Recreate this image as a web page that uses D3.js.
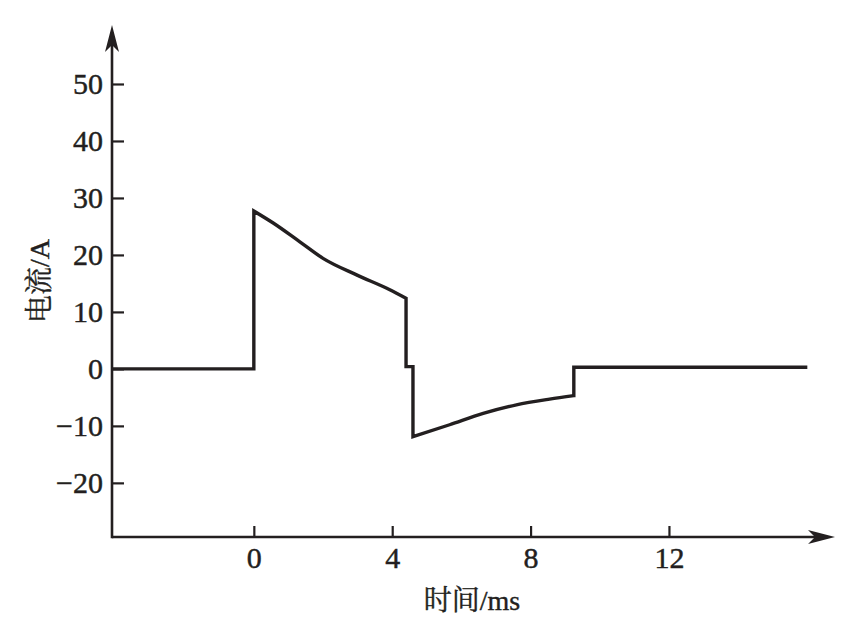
<!DOCTYPE html>
<html>
<head>
<meta charset="utf-8">
<script src="https://cdn.jsdelivr.net/npm/d3@7/dist/d3.min.js"></script>
<style>
  html, body { margin: 0; padding: 0; background: #fff; }
  svg { display: block; }
  text { font-family: "Liberation Serif", "Noto Serif CJK SC", "Noto Sans CJK SC", serif; fill: #231f20; }
</style>
</head>
<body>
<svg id="chart" width="846" height="640"></svg>
<script>
// ---- data (time in ms, current in A) ----
const timeMs = [-4.1, 0.0, 0.0, 0.56, 1.33, 2.0, 2.97, 3.93, 4.4, 4.4, 4.6, 4.6, 5.66, 6.63, 7.59, 8.55, 9.25, 9.25, 16.0];
const currentA = [0.0, 0.0, 27.7, 25.6, 22.3, 19.4, 16.5, 13.9, 12.4, 0.4, 0.4, -11.9, -9.8, -7.8, -6.3, -5.3, -4.7, 0.3, 0.3];
const xTicks = [0, 4, 8, 12];
const yTicks = [-20, -10, 0, 10, 20, 30, 40, 50];
const xDomain = [-4.1, 16.8];
const yDomain = [-29.5, 60];
const xTitle = "时间/ms";
const yTitle = "电流/A";

(function () {
const svg = d3.select("#chart");
const ink = "#231f20";
const mLeft = 112, mRight = 835, mBottom = 537, mTop = 27;

const x = d3.scaleLinear().domain(xDomain).range([mLeft, mRight]);
const y = d3.scaleLinear().domain(yDomain).range([mBottom, mTop]);

const fmt = v => (v < 0 ? "\u2212" + Math.abs(v) : String(v));

function styleText(sel) {
  sel.attr("font-size", 30).attr("fill", ink).attr("font-family", "Liberation Serif, serif")
     .attr("stroke", ink).attr("stroke-width", 0.45);
}

// x axis
const xAxis = svg.append("g").attr("transform", `translate(0,${mBottom})`)
  .call(d3.axisBottom(x).tickValues(xTicks).tickSizeInner(-11).tickSizeOuter(0).tickPadding(10).tickFormat(fmt));
xAxis.select(".domain").remove();
xAxis.selectAll(".tick line").attr("stroke", ink).attr("stroke-width", 2.2);
xAxis.selectAll(".tick text").call(styleText);

// y axis
const yAxis = svg.append("g").attr("transform", `translate(${mLeft},0)`)
  .call(d3.axisLeft(y).tickValues(yTicks).tickSizeInner(-12).tickSizeOuter(0).tickPadding(9).tickFormat(fmt));
yAxis.select(".domain").remove();
yAxis.selectAll(".tick line").attr("stroke", ink).attr("stroke-width", 2.2);
yAxis.selectAll(".tick text").call(styleText);

// axis lines with arrows
svg.append("line").attr("x1", mLeft).attr("x2", mRight - 12).attr("y1", mBottom).attr("y2", mBottom)
  .attr("stroke", ink).attr("stroke-width", 2.6);
svg.append("line").attr("x1", mLeft).attr("x2", mLeft).attr("y1", mBottom + 1.3).attr("y2", mTop + 12)
  .attr("stroke", ink).attr("stroke-width", 2.6);
svg.append("path")
  .attr("d", `M${mRight},${mBottom} L${mRight - 27},${mBottom - 7} L${mRight - 20},${mBottom} L${mRight - 27},${mBottom + 7} Z`)
  .attr("fill", ink);
svg.append("path")
  .attr("d", `M${mLeft},${mTop - 2} L${mLeft - 7},${mTop + 25} L${mLeft},${mTop + 18} L${mLeft + 7},${mTop + 25} Z`)
  .attr("fill", ink);

// data line: split into runs at vertical jumps, smooth each run, join with straight steps
const pts = timeMs.map((t, i) => [t, currentA[i]]);
const runs = [];
let cur = [pts[0]];
for (let i = 1; i < pts.length; i++) {
  if (pts[i][0] === pts[i - 1][0]) { runs.push(cur); cur = [pts[i]]; }
  else cur.push(pts[i]);
}
runs.push(cur);
const seg = d3.line().x(d => x(d[0])).y(d => y(d[1])).curve(d3.curveMonotoneX);
const dStr = runs.map((r, i) => {
  const s = seg(r);
  return i === 0 ? s : "L" + s.slice(1);
}).join("");
svg.append("path").attr("d", dStr)
  .attr("fill", "none").attr("stroke", ink).attr("stroke-width", 3.4)
  .attr("stroke-linejoin", "miter");

// titles
svg.append("text").attr("x", 472).attr("y", 610).attr("text-anchor", "middle")
  .attr("font-size", 28).attr("stroke", ink).attr("stroke-width", 0.4).text(xTitle);
svg.append("text").attr("transform", "translate(49,281) rotate(-90)").attr("text-anchor", "middle")
  .attr("font-size", 28).attr("stroke", ink).attr("stroke-width", 0.4).text(yTitle);
})();
</script>
</body>
</html>
